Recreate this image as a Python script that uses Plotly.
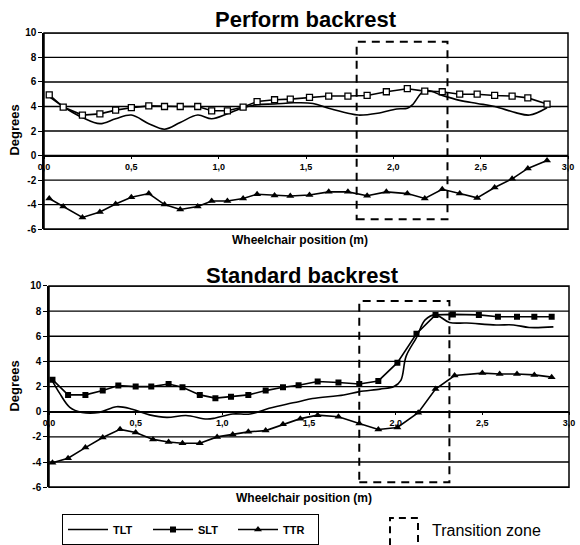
import plotly.graph_objects as go

# ---------------- data ----------------
# Perform backrest (top panel)
top_x = [0.03, 0.11, 0.22, 0.32, 0.41, 0.50, 0.60, 0.69, 0.78, 0.88,
         0.96, 1.05, 1.14, 1.22, 1.32, 1.41, 1.52, 1.63, 1.74, 1.85,
         1.96, 2.08, 2.18, 2.28, 2.38, 2.48, 2.58, 2.68, 2.77, 2.88]
top_slt = [4.95, 3.95, 3.3, 3.4, 3.7, 3.9, 4.05, 4.0, 4.0, 4.0,
           3.65, 3.65, 3.95, 4.4, 4.55, 4.6, 4.75, 4.85, 4.85, 4.9,
           5.2, 5.45, 5.25, 5.2, 5.0, 5.0, 4.9, 4.85, 4.7, 4.2]
top_ttr = [-3.5, -4.15, -5.05, -4.6, -3.95, -3.4, -3.1, -4.0, -4.4, -4.15,
           -3.7, -3.7, -3.5, -3.15, -3.25, -3.3, -3.22, -2.96, -2.96, -3.27,
           -2.96, -3.1, -3.5, -2.75, -3.1, -3.45, -2.6, -1.9, -1.05, -0.4]
top_tlt_x = [0.03, 0.12, 0.22, 0.32, 0.41, 0.50, 0.60, 0.69, 0.78, 0.88,
             0.96, 1.05, 1.14, 1.22, 1.32, 1.43, 1.54, 1.63, 1.74, 1.80,
             1.91, 2.02, 2.08, 2.11, 2.18, 2.28, 2.38, 2.48, 2.58, 2.70,
             2.78, 2.88]
top_tlt = [4.8, 3.9, 3.1, 2.6, 3.0, 3.3, 2.6, 2.15, 2.7, 3.3,
           3.0, 3.4, 3.9, 4.15, 4.2, 4.3, 4.25, 3.85, 3.45, 3.3,
           3.45, 3.8, 3.85, 4.15, 5.3, 4.9, 4.5, 4.25, 4.0, 3.5,
           3.3, 3.9]

# Standard backrest (bottom panel)
bot_slt_x = [0.02, 0.11, 0.21, 0.31, 0.40, 0.50, 0.59, 0.69, 0.77, 0.87,
             0.96, 1.05, 1.15, 1.25, 1.35, 1.44, 1.55, 1.67, 1.79, 1.90,
             2.01, 2.12, 2.23, 2.33, 2.48, 2.59, 2.70, 2.80, 2.90]
bot_slt = [2.55, 1.34, 1.34, 1.68, 2.08, 2.0, 2.0, 2.2, 1.95, 1.34,
           1.08, 1.2, 1.34, 1.68, 1.95, 2.1, 2.4, 2.32, 2.2, 2.45,
           3.9, 6.2, 7.7, 7.74, 7.7, 7.55, 7.55, 7.55, 7.55]
bot_ttr_x = [0.02, 0.11, 0.21, 0.31, 0.41, 0.50, 0.60, 0.69, 0.77, 0.87,
             0.97, 1.06, 1.15, 1.25, 1.35, 1.45, 1.55, 1.67, 1.79, 1.90,
             2.01, 2.13, 2.23, 2.34, 2.50, 2.60, 2.70, 2.80, 2.90]
bot_ttr = [-4.05, -3.7, -2.85, -2.05, -1.4, -1.65, -2.2, -2.4, -2.5, -2.5,
           -2.0, -1.8, -1.6, -1.5, -1.0, -0.55, -0.27, -0.4, -0.93, -1.41,
           -1.25, -0.08, 1.8, 2.88, 3.07, 3.0, 3.0, 2.93, 2.75]
bot_tlt_x = [0.01, 0.06, 0.12, 0.19, 0.29, 0.39, 0.48, 0.58, 0.68, 0.79,
             0.91, 0.96, 1.06, 1.16, 1.27, 1.37, 1.44, 1.52, 1.70, 1.79,
             1.91, 1.99, 2.03, 2.06, 2.12, 2.17, 2.23, 2.31, 2.41, 2.58,
             2.68, 2.77, 2.91]
bot_tlt = [2.7, 1.5, 0.35, -0.05, -0.05, 0.4, 0.2, -0.25, -0.45, -0.3,
           -0.58, -0.5, -0.18, -0.18, 0.27, 0.6, 0.8, 1.05, 1.33, 1.6,
           1.8, 2.0, 2.5, 4.4, 5.9, 7.3, 7.7, 7.1, 7.05, 6.9,
           6.9, 6.7, 6.75]

# transition zone (x0, x1, y0, y1) per panel
top_zone = [1.79, 2.31, -5.2, 9.27]
bot_zone = [1.79, 2.31, -5.6, 8.8]

x_ticks = [0, 0.5, 1.0, 1.5, 2.0, 2.5, 3.0]
y_ticks = [-6, -4, -2, 0, 2, 4, 6, 8, 10]
y_ticktext = ["-6", "-4", "-2", "0", "2", "4", "6", "8", "10"]
series_names = ["TLT", "SLT", "TTR"]
panel_titles = ["Perform backrest", "Standard backrest"]

# ---------------- layout helpers ----------------
W, H = 580, 545
FONT = "Liberation Sans"


def px(xp):
    return xp / W


def py(yp):
    return 1 - yp / H


fig = go.Figure()

# Top panel traces
fig.add_trace(go.Scatter(x=top_tlt_x, y=top_tlt, mode="lines", line=dict(color="black", width=1.6, shape="spline"),
                         name=series_names[0], showlegend=False, xaxis="x", yaxis="y"))
fig.add_trace(go.Scatter(x=top_x, y=top_slt, mode="lines+markers", line=dict(color="black", width=1.6),
                         marker=dict(symbol="square", size=6, color="white", line=dict(color="black", width=1.3)),
                         name=series_names[1], showlegend=False, xaxis="x", yaxis="y"))
fig.add_trace(go.Scatter(x=top_x, y=top_ttr, mode="lines+markers", line=dict(color="black", width=1.6),
                         marker=dict(symbol="triangle-up", size=7, color="black"),
                         name=series_names[2], showlegend=False, xaxis="x", yaxis="y"))

# Bottom panel traces
fig.add_trace(go.Scatter(x=bot_tlt_x, y=bot_tlt, mode="lines", line=dict(color="black", width=1.6, shape="spline"),
                         name=series_names[0], showlegend=True, xaxis="x2", yaxis="y2"))
fig.add_trace(go.Scatter(x=bot_slt_x, y=bot_slt, mode="lines+markers", line=dict(color="black", width=1.6),
                         marker=dict(symbol="square", size=6, color="black"),
                         name=series_names[1], showlegend=True, xaxis="x2", yaxis="y2"))
fig.add_trace(go.Scatter(x=bot_ttr_x, y=bot_ttr, mode="lines+markers", line=dict(color="black", width=1.6),
                         marker=dict(symbol="triangle-up", size=7, color="black"),
                         name=series_names[2], showlegend=True, xaxis="x2", yaxis="y2"))

# domains (pixel-based)
top_dom_x = [px(44), px(568)]
top_dom_y = [py(230), py(33)]
bot_dom_x = [px(49), px(569)]
bot_dom_y = [py(489), py(287)]
zero_frac = 6 / 16
top_zero = top_dom_y[0] + zero_frac * (top_dom_y[1] - top_dom_y[0])
bot_zero = bot_dom_y[0] + zero_frac * (bot_dom_y[1] - bot_dom_y[0])

ytickfont = dict(family=FONT, size=10, color="black", weight="bold")
xtickfont = dict(family=FONT, size=9, color="black", weight="bold")

xcommon = dict(range=[0, 3], tickvals=x_ticks, tickformat=".1f", showgrid=False, zeroline=False,
               showline=True, linecolor="black", linewidth=1.5, ticks="outside", ticklen=3,
               tickcolor="black", tickfont=xtickfont, automargin=False, anchor="free")
ycommon = dict(range=[-6, 10], tickvals=y_ticks, ticktext=y_ticktext, showgrid=False,
               zeroline=False, showline=True, linecolor="black", linewidth=1.5,
               ticks="outside", ticklen=4, tickcolor="black", tickfont=ytickfont, automargin=False)

fig.update_layout(
    width=W, height=H,
    margin=dict(l=0, r=0, t=0, b=0),
    paper_bgcolor="white", plot_bgcolor="white",
    separators=",.",
    font=dict(family=FONT, color="black"),
    xaxis=dict(domain=top_dom_x, position=top_zero, **xcommon),
    yaxis=dict(domain=top_dom_y, anchor="x", **ycommon),
    xaxis2=dict(domain=bot_dom_x, position=bot_zero, **xcommon),
    yaxis2=dict(domain=bot_dom_y, anchor="x2", **ycommon),
    legend=dict(orientation="h", x=px(62), y=py(516), xanchor="left", yanchor="top",
                bordercolor="black", borderwidth=1, bgcolor="white",
                font=dict(family=FONT, size=11, color="black", weight="bold"),
                itemwidth=40, entrywidth=30, entrywidthmode="pixels", tracegroupgap=0),
)

shapes = []
# horizontal gridlines at every y tick (drawn on the y scale)
for yr, xr in (("y", "x domain"), ("y2", "x2 domain")):
    for v in y_ticks:
        shapes.append(dict(type="line", xref=xr, yref=yr, x0=0, x1=1, y0=v, y1=v,
                           line=dict(color="black", width=1.4), layer="below"))
# plot borders
for xr, yr in (("x domain", "y domain"), ("x2 domain", "y2 domain")):
    shapes.append(dict(type="rect", xref=xr, yref=yr, x0=0, x1=1, y0=0, y1=1,
                       line=dict(color="black", width=1.5)))
# transition zones
for xr, yr, z in (("x", "y", top_zone), ("x2", "y2", bot_zone)):
    shapes.append(dict(type="rect", xref=xr, yref=yr, x0=z[0], x1=z[1], y0=z[2], y1=z[3],
                       line=dict(color="black", width=2, dash="8px,6px")))
# legend dashed box
shapes.append(dict(type="rect", xref="paper", yref="paper", x0=px(390), x1=px(418), y0=py(552), y1=py(520),
                   line=dict(color="black", width=2, dash="7px,5px")))

annotations = [
    dict(text=panel_titles[0], x=px(306), y=py(20), xref="paper", yref="paper", showarrow=False,
         font=dict(family=FONT, size=22, color="black", weight="bold"), xanchor="center", yanchor="middle"),
    dict(text=panel_titles[1], x=px(302), y=py(277), xref="paper", yref="paper", showarrow=False,
         font=dict(family=FONT, size=22, color="black", weight="bold"), xanchor="center", yanchor="middle"),
    dict(text="Wheelchair position (m)", x=px(300), y=py(241), xref="paper", yref="paper", showarrow=False,
         font=dict(family=FONT, size=12, color="black", weight="bold"), xanchor="center", yanchor="middle"),
    dict(text="Wheelchair position (m)", x=px(304), y=py(500), xref="paper", yref="paper", showarrow=False,
         font=dict(family=FONT, size=12, color="black", weight="bold"), xanchor="center", yanchor="middle"),
    dict(text="Degrees", x=px(15), y=py(131), xref="paper", yref="paper", showarrow=False, textangle=-90,
         font=dict(family=FONT, size=13, color="black", weight="bold"), xanchor="center", yanchor="middle"),
    dict(text="Degrees", x=px(15), y=py(388), xref="paper", yref="paper", showarrow=False, textangle=-90,
         font=dict(family=FONT, size=13, color="black", weight="bold"), xanchor="center", yanchor="middle"),
    dict(text="Transition zone", x=px(430), y=py(532), xref="paper", yref="paper", showarrow=False,
         font=dict(family=FONT, size=16, color="black"), xanchor="left", yanchor="middle"),
]

fig.update_layout(shapes=shapes, annotations=annotations)
# remove the browser's default 8px page margin so the figure sits at the window origin
fig.write_html("out.html", config={"displayModeBar": False},
               post_script="document.body.style.margin='0';")
